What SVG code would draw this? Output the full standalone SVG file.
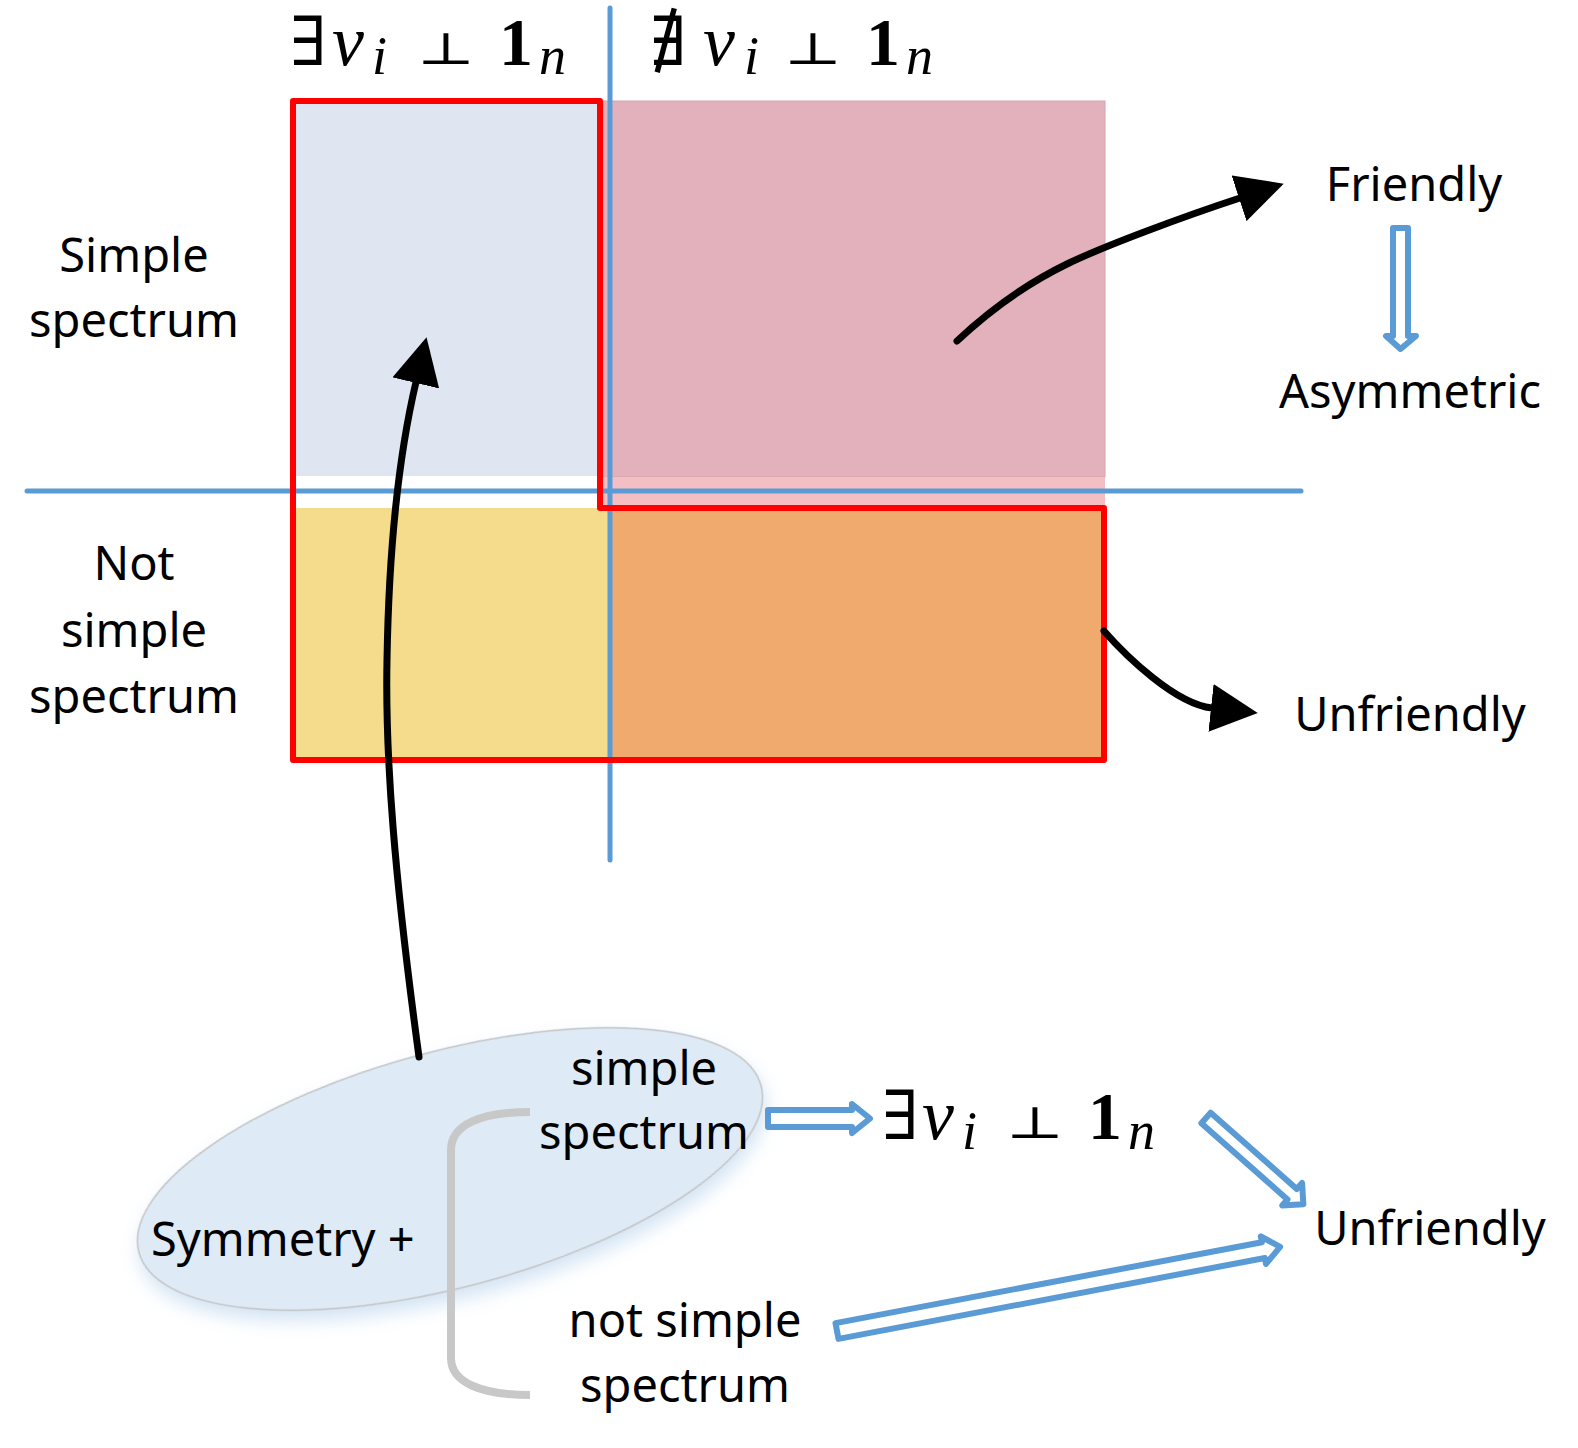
<svg xmlns="http://www.w3.org/2000/svg" width="1578" height="1448" viewBox="0 0 1578 1448">
<style>
.t{font-family:"Noto Sans","Open Sans","Liberation Sans",sans-serif;font-size:47px;fill:#000;text-anchor:middle}
.ts{text-anchor:start}
.m{font-family:"Liberation Serif","DejaVu Serif",serif;font-size:66px;fill:#000}
.sym{font-family:"DejaVu Serif",serif;font-size:68px}
.perp{font-family:"DejaVu Serif","Liberation Serif",serif;font-size:62px;fill:#000}
.it{font-style:italic;font-size:72px}
.sub{font-style:italic;font-size:54px}
.bf{font-weight:bold;font-size:68px}
.axis{stroke:#5b9bd5;stroke-width:5;stroke-linecap:round;fill:none}
.red{stroke:#ff0000;stroke-width:6;stroke-linejoin:round;fill:none}
.blk{stroke:#000;stroke-width:7;stroke-linecap:round;fill:none}
.barrow{stroke:#5b9bd5;stroke-width:6;stroke-linejoin:round;fill:#fff}
</style>
<defs>
<marker id="ah" viewBox="0 0 47 48" markerWidth="47" markerHeight="48" refX="1" refY="24" orient="auto" markerUnits="userSpaceOnUse">
<path d="M0,0 L47,24 L0,48 Z" fill="#000"/>
</marker>
<filter id="sh" x="-20%" y="-30%" width="140%" height="170%">
<feDropShadow dx="0" dy="10" stdDeviation="9" flood-color="#9dc3e6" flood-opacity="0.45"/>
</filter>
</defs>
<rect width="1578" height="1448" fill="#fff"/>

<g id="region-simple-exists">
<rect x="293" y="101" width="310" height="375" fill="#dfe6f2"/>
</g>
<g id="region-simple-notexists">
<rect x="603" y="101" width="502" height="376" fill="#e2b1bc" stroke="#d3a4ae" stroke-width="1"/>
<rect x="603" y="477" width="502" height="31" fill="#f4bec3"/>
</g>
<g id="region-notsimple-exists">
<rect x="293" y="508" width="315" height="249" fill="#f5dc8c"/>
</g>
<g id="region-notsimple-notexists">
<rect x="608" y="508" width="494" height="249" fill="#f0aa6e"/>
</g>

<g id="axes">
<line class="axis" x1="610" y1="8" x2="610" y2="860"/>
<line class="axis" x1="27" y1="491" x2="1301" y2="491"/>
</g>

<g id="unfriendly-outline">
<path class="red" d="M293,101 L600,101 L600,508 L1104,508 L1104,760 L293,760 Z"/>
</g>

<g id="col-exists">
<text class="m" y="65"><tspan x="290" class="sym">∃</tspan><tspan x="332" class="it">v</tspan><tspan x="372" y="74" class="sub">i</tspan><tspan x="499" y="65" class="bf">1</tspan><tspan x="539" y="74" class="sub">n</tspan></text>
<text class="perp" transform="translate(417,64) scale(1,0.72)">⊥</text>
</g>
<g id="col-notexists">
<text class="m" y="65"><tspan x="650" class="sym">∄</tspan><tspan x="703" class="it">v</tspan><tspan x="744" y="74" class="sub">i</tspan><tspan x="866" y="65" class="bf">1</tspan><tspan x="906" y="74" class="sub">n</tspan></text>
<text class="perp" transform="translate(784,64) scale(1,0.72)">⊥</text>
</g>

<g id="row-simple">
<text class="t" x="134" y="272">Simple</text>
<text class="t" x="134" y="337">spectrum</text>
</g>
<g id="row-notsimple">
<text class="t" x="134" y="580">Not</text>
<text class="t" x="134" y="647">simple</text>
<text class="t" x="134" y="713">spectrum</text>
</g>

<g id="friendly">
<text class="t" x="1414" y="201">Friendly</text>
</g>
<g id="asymmetric">
<text class="t" x="1410" y="408">Asymmetric</text>
</g>
<g id="unfriendly-top">
<text class="t" x="1410" y="731">Unfriendly</text>
</g>

<g id="symmetry-ellipse">
<ellipse cx="450" cy="1169" rx="322" ry="118" transform="rotate(-15 450 1169)" fill="#deeaf6" stroke="#c4c4c4" stroke-width="1.5" filter="url(#sh)"/>
<text class="t ts" x="151" y="1256">Symmetry +</text>
<text class="t" x="644" y="1085">simple</text>
<text class="t" x="644" y="1149">spectrum</text>
</g>
<g id="bracket">
<path d="M530,1112 C480,1112 451,1125 451,1150 L451,1358 C451,1382 480,1395 530,1395" fill="none" stroke="#c8c8c8" stroke-width="8"/>
</g>
<g id="not-simple">
<text class="t" x="685" y="1337">not simple</text>
<text class="t" x="685" y="1402">spectrum</text>
</g>
<g id="exists-bottom">
<text class="m" y="1139"><tspan x="882" class="sym">∃</tspan><tspan x="922" class="it">v</tspan><tspan x="962" y="1149" class="sub">i</tspan><tspan x="1088" y="1139" class="bf">1</tspan><tspan x="1128" y="1149" class="sub">n</tspan></text>
<text class="perp" transform="translate(1006,1138) scale(1,0.72)">⊥</text>
</g>
<g id="unfriendly-bottom">
<text class="t" x="1430" y="1245">Unfriendly</text>
</g>

<g id="connectors">
<path class="blk" marker-end="url(#ah)" d="M419,1057 C395,880 385,760 387,660 C389,540 400,450 416,382"/>
<path class="blk" marker-end="url(#ah)" d="M957,341 C990,310 1030,282 1067,264 S1185,216 1240,198"/>
<path class="blk" marker-end="url(#ah)" d="M1104,631 C1125,655 1175,704 1212,708"/>
<path class="barrow" d="M1393,228 L1408,228 L1408,336 L1416,336 L1400.5,349 L1386,336 L1393,336 Z"/>
<path class="barrow" d="M768,1110 L852,1110 L852,1104 L870,1118.5 L852,1133 L852,1127 L768,1127 Z"/>
<path class="barrow" transform="translate(1206,1118) rotate(41.5)" d="M0,-7 L115,-7 L115,-15 L130,0 L115,15 L115,7 L0,7 Z"/>
<path class="barrow" transform="translate(837,1331) rotate(-10.74)" d="M0,-8 L434,-8 L434,-14 L451,0 L434,14 L434,8 L0,8 Z"/>
</g>
</svg>
